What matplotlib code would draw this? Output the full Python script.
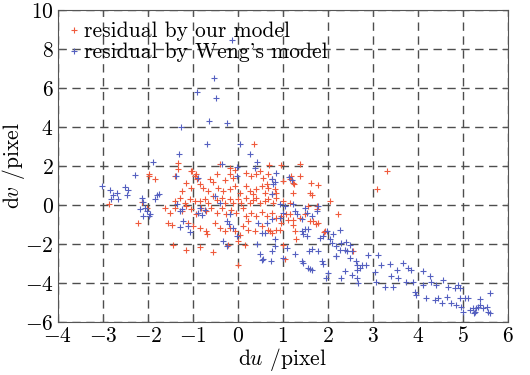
import matplotlib
matplotlib.use("Agg")
import matplotlib.pyplot as plt

# residual by our model (red)
ours_du = [
    0.36, -1.33, -0.40, -0.18, -0.07, 0.70, 0.97, 1.38, -1.97, -1.84,
    -1.40, -1.04, -0.93, -0.90, -0.46, -0.62, -0.55, -0.29, -0.18, -0.10,
    0.19, 0.30, 0.41, 0.49, 0.56, 0.67, 0.75, 0.64, 1.19, 1.23,
    1.38, 1.62, 1.79, 1.23, -1.14, -1.03, -0.77, -0.66, -0.44, -0.33,
    -0.18, -0.07, 0.04, 0.19, 0.27, 0.34, 0.41, 0.53, 0.60, 0.67,
    0.75, 0.82, 0.86, -1.40, -1.29, -1.18, -1.07, -0.96, -0.84, -0.73,
    -0.66, -0.55, -0.47, -0.36, -0.29, -0.18, -0.10, 0.01, 0.08, 0.19,
    0.27, 0.34, 0.41, 0.49, 0.60, 0.67, 0.79, 0.86, -1.62, -1.51,
    -1.40, -1.25, -1.14, -1.03, -0.92, -0.81, -0.70, -0.59, -0.47, -0.36,
    -0.27, -0.14, -0.03, 0.12, 0.19, 0.30, 0.41, 0.53, 0.64, 0.75,
    0.86, 0.97, 1.08, 1.23, 1.38, 1.49, 1.67, 1.75, 2.04, -1.55,
    -1.47, -1.10, -0.99, -0.84, -0.70, -0.51, -0.40, -0.29, -0.18, -0.07,
    0.04, 0.12, 0.23, 0.38, 0.53, 0.67, 0.93, 1.23, 1.27, -1.44,
    -1.14, -0.84, -0.55, -0.21, 0.01, 0.16, 1.01, 0.01, -1.33, -1.98,
    -1.02, 1.60, 1.64, 1.01, 1.16, 1.24, 2.23, 1.75, 1.56, 1.91,
    1.30, 1.04, 2.55, 1.73, 1.60, 1.12, 1.16, 0.97, 0.86, 0.75,
    3.31, 3.09, 1.01, 1.16, 0.71, 0.23, 1.79, 1.93, -2.87, -2.13,
    -2.22, -2.02, -0.69, -0.96, -1.25, -0.85,
]
ours_dv = [
    3.13, 2.18, 2.13, 1.92, 1.79, 2.06, 2.04, 2.13, 1.58, 1.36,
    1.49, 1.75, 1.58, 1.36, 1.58, 1.32, 1.19, 1.27, 1.58, 1.41,
    1.67, 1.49, 1.58, 1.75, 1.41, 1.58, 1.32, 1.07, 1.49, 1.15,
    1.49, 1.15, 1.03, 0.64, 1.15, 0.89, 0.89, 0.72, 0.89, 0.72,
    0.81, 0.98, 0.64, 0.98, 0.72, 0.55, 0.81, 0.98, 0.64, 0.89,
    0.55, 0.81, 0.64, 0.21, 0.38, 0.12, 0.29, 0.21, 0.21, 0.29,
    0.12, 0.46, 0.24, 0.38, 0.12, 0.29, 0.12, 0.29, 0.12, 0.38,
    0.12, 0.24, 0.38, 0.12, 0.21, 0.29, 0.12, 0.38, -0.14, -0.40,
    -0.17, -0.31, -0.05, -0.22, -0.48, -0.14, -0.31, -0.17, -0.40, -0.17,
    -0.45, -0.27, -0.40, -0.17, -0.57, -0.40, -0.57, -0.34, -0.57, -0.40,
    -0.65, -0.57, -0.48, -0.74, -0.65, -0.48, -0.82, -0.22, 0.21, -0.91,
    -1.00, -0.91, -1.08, -1.17, -1.34, -0.91, -1.17, -1.34, -1.17, -1.34,
    -1.51, -1.08, -1.25, -1.34, -1.08, -1.25, -1.25, -1.00, -1.34, -2.06,
    -2.29, -2.16, -2.41, -2.06, -1.86, -2.06, -2.03, -3.09, 1.86, 1.49,
    1.75, 0.64, 0.52, 1.24, 1.32, 1.10, -0.48, -0.05, -0.05, -1.39,
    -1.72, -2.75, -2.37, -0.96, -0.82, -0.74, -0.48, -0.91, -1.25, -1.43,
    1.75, 0.82, 0.21, 0.12, -1.34, -0.80, -0.91, -1.34, 0.05, 0.15,
    -0.93, -0.15, -1.50, 1.49, 0.75, 1.10,
]

# residual by Weng's model (blue)
weng_du = [
    -0.13, -0.53, -0.91, -0.49, -0.64, -0.24, -1.27, -0.69, 0.04, -1.31,
    0.27, -1.89, -0.36, -0.02, 0.42, 0.38, -2.29, 0.84, 0.76, 0.82,
    0.78, 1.13, 1.20, -1.38, -0.89, -0.02, -1.80, -1.76, -1.84, -2.13,
    -2.18, -2.07, -2.02, -1.98, -2.11, -2.11, -3.02, -2.84, -2.78, -2.69,
    -2.67, -2.82, -2.51, -2.44, -2.47, -1.36, -1.24, -1.22, -1.29, -1.11,
    -1.07, -1.29, -1.96, -0.84, -0.80, -0.73, -0.89, -0.51, -0.40, -0.18,
    -0.24, -0.20, -0.11, -0.02, -0.33, -0.24, 0.44, 0.53, 0.60, 0.64,
    0.76, 0.82, 0.93, 1.00, 1.04, 0.93, 0.42, 0.49, 0.56, 0.76,
    0.82, 1.00, 1.09, 0.76, 1.31, 1.27, 1.42, 1.49, 1.56, 1.44,
    1.53, 1.42, 1.60, 1.64, 1.78, 1.82, 1.89, 1.98, 2.04, 2.11,
    1.87, 1.89, 1.49, 1.76, 1.78, 1.22, 1.27, 1.53, 1.64, 1.42,
    2.27, 0.53, 0.73, 2.19, 2.01, 1.97, 1.56, 2.10, 2.19, 2.27,
    1.64, 2.30, 2.41, 2.49, 2.38, 2.43, 2.53, 1.44, 1.58, 2.19,
    2.30, 2.38, 2.53, 2.49, 2.62, 2.65, 2.64, 2.65, 2.71, 2.77,
    2.86, 2.90, 2.67, 3.04, 3.12, 3.08, 3.19, 3.27, 3.38, 3.41,
    3.45, 3.53, 3.56, 3.67, 3.75, 3.79, 3.86, 3.90, 3.93, 3.97,
    4.12, 4.12, 4.19, 4.27, 4.30, 4.38, 4.45, 4.41, 4.53, 4.56,
    4.64, 4.67, 4.75, 4.82, 4.86, 4.90, 4.93, 4.97, 5.01, 5.04,
    5.12, 5.16, 5.23, 5.27, 5.30, 5.34, 5.38, 5.39, 5.45, 5.53,
    5.56, 5.60, 5.61, 5.24, 4.93,
]
weng_dv = [
    8.45, 6.50, 5.80, 5.50, 4.30, 4.20, 4.00, 3.14, 3.14, 2.63,
    2.63, 2.22, 2.11, 1.96, 2.22, 1.91, 1.55, 1.65, 1.34, 1.19,
    1.08, 1.44, 1.29, 1.49, 1.39, 1.49, 0.52, 0.57, 0.31, 0.36,
    -0.21, -0.15, -0.31, -0.57, -0.57, 0.15, 0.98, 0.77, 0.52, 0.62,
    0.31, 0.31, 0.93, 0.77, 0.52, 0.05, -0.21, -0.82, -1.13, -1.08,
    -1.39, -0.31, -0.46, -0.15, -0.52, -0.26, -0.41, 0.46, 0.10, -0.46,
    -0.82, -0.98, -1.19, -1.60, -1.86, -2.11, -0.93, -1.44, -1.44, -0.93,
    -0.72, -1.75, -0.67, -0.41, -0.05, 0.05, -2.01, -2.53, -2.78, -2.37,
    -2.11, -2.73, -2.22, 0.57, -0.46, -2.53, -1.34, -1.24, -1.24, -1.49,
    -1.60, -2.89, -3.25, -2.27, -2.37, -1.70, -1.60, -1.34, -1.75, -1.49,
    -2.89, -3.04, -0.15, -0.31, -0.05, 0.05, -0.31, -0.41, -0.57, -0.72,
    -1.25, -2.80, -2.85, -2.63, -3.49, -3.75, -3.23, -1.94, -2.11, -2.29,
    -3.35, -1.94, -1.89, -2.03, -2.29, -2.37, -2.37, -2.97, -2.34, -2.63,
    -3.75, -3.40, -3.57, -2.71, -2.89, -3.06, -3.32, -3.75, -3.20, -3.06,
    -3.06, -2.58, -4.00, -3.44, -2.54, -3.92, -3.06, -4.18, -3.02, -3.66,
    -4.18, -3.32, -3.75, -2.97, -3.92, -3.23, -3.32, -3.92, -4.43, -4.60,
    -3.40, -4.09, -4.78, -3.66, -3.92, -4.86, -4.78, -4.09, -5.03, -3.83,
    -4.69, -4.18, -5.03, -4.26, -5.12, -4.09, -4.78, -5.21, -5.46, -4.74,
    -4.78, -5.38, -5.29, -5.46, -5.29, -5.21, -4.81, -5.12, -5.29, -5.21,
    -5.46, -4.52, -5.55, -5.55, -4.26,
]

x_ticks = [-4, -3, -2, -1, 0, 1, 2, 3, 4, 5, 6]
y_ticks = [-6, -4, -2, 0, 2, 4, 6, 8, 10]

plt.rcParams['font.family'] = 'cmr10'
plt.rcParams['mathtext.fontset'] = 'cm'
plt.rcParams['axes.formatter.use_mathtext'] = True
plt.rcParams['font.size'] = 15.5

fig = plt.figure(figsize=(5.3, 3.75), dpi=100)
ax = fig.add_axes([0.109, 0.141, 0.849, 0.832])

ax.plot(ours_du, ours_dv, '+', color='#ef5a3c', ms=4, mew=0.8,
        label='residual by our model', zorder=3)
ax.plot(weng_du, weng_dv, '+', color='#5560c0', ms=4, mew=0.8,
        label="residual by Weng's model", zorder=3)

ax.set_xlim(-4, 6)
ax.set_ylim(-6, 10)
ax.set_xticks(x_ticks)
ax.set_yticks(y_ticks)
ax.grid(True, color='#4d4d4d', linestyle=(0, (6, 4)), linewidth=1.0)
ax.tick_params(direction='in', top=True, right=True, length=4,
               color='#555555', pad=3)
for s in ax.spines.values():
    s.set_color('#555555')

ax.set_xlabel('d$u$ /pixel', labelpad=0)
ax.set_ylabel('d$v$ /pixel')
ax.yaxis.set_label_coords(-0.068, 0.5)

ax.legend(loc='upper left', frameon=False, handlelength=0.4,
          handletextpad=0.25, labelspacing=0.05, borderaxespad=0.3,
          borderpad=0.25, fontsize=15.5)

fig.savefig('out.png', dpi=100)
